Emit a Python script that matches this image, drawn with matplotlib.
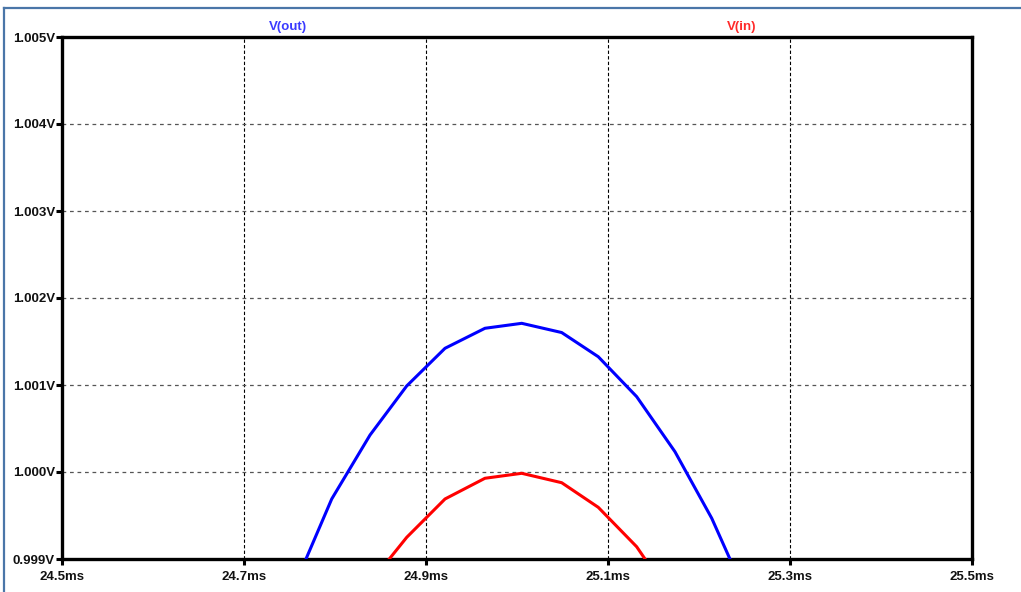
import numpy as np
import matplotlib.pyplot as plt
from matplotlib.lines import Line2D
from matplotlib.ticker import FuncFormatter

# 数据：时间点 (ms) 与两条曲线电压 (V)
t_ms = [24.7543, 24.7964, 24.8385, 24.8788, 24.9209, 24.9648, 25.0052,
        25.0491, 25.0893, 25.1315, 25.1736, 25.2140, 25.2561]
v_out = [0.998663, 0.999690, 1.000425, 1.000989, 1.001422, 1.001652, 1.001709,
         1.001603, 1.001325, 1.000866, 1.000233, 0.999468, 0.998483]

t_in = [24.8385, 24.8788, 24.9209, 24.9648, 25.0052, 25.0491, 25.0893,
        25.1315, 25.1736]
v_in = [0.998725, 0.999249, 0.999690, 0.999928, 0.999985, 0.999877, 0.999594,
        0.999141, 0.998496]

x_ticks = [24.5, 24.7, 24.9, 25.1, 25.3, 25.5]
y_ticks = [0.999, 1.000, 1.001, 1.002, 1.003, 1.004, 1.005]

W, H = 1021, 592
fig = plt.figure(figsize=(W / 100, H / 100), dpi=100)
fig.patch.set_facecolor('white')

# 外框（左、上）
frame_c = '#4a76a8'
fig.add_artist(Line2D([4 / W, 4 / W], [0, 1 - 8 / H], color=frame_c, lw=1.6,
                      transform=fig.transFigure))
fig.add_artist(Line2D([4 / W, 1], [1 - 8 / H, 1 - 8 / H], color=frame_c, lw=1.6,
                      transform=fig.transFigure))

ax = fig.add_axes([62 / W, (H - 559) / H, (972 - 62) / W, (559 - 37) / H])
ax.set_xlim(24.5, 25.5)
ax.set_ylim(0.999, 1.005)

ax.plot(t_ms, v_out, color='#0000ff', lw=2.2, zorder=3)
ax.plot(t_in, v_in, color='#ff0000', lw=2.2, zorder=3)

# 网格
for x in x_ticks[1:-1]:
    ax.axvline(x, color='black', lw=0.8, ls=(0, (3, 2)), zorder=1)
for y in y_ticks[1:-1]:
    ax.axhline(y, color='#555555', lw=0.9, ls=(0, (3, 3)), zorder=1)

ax.set_xticks(x_ticks)
ax.set_yticks(y_ticks)
ax.xaxis.set_major_formatter(FuncFormatter(lambda v, p: f"{v:.1f}ms"))
ax.yaxis.set_major_formatter(FuncFormatter(lambda v, p: f"{v:.3f}V"))
ax.tick_params(axis='both', direction='out', length=4, width=2.2, color='black',
               labelsize=9.5, pad=1)
ax.tick_params(axis='x', pad=4.5)
for lab in ax.get_xticklabels() + ax.get_yticklabels():
    lab.set_fontfamily('Liberation Sans')
    lab.set_fontweight('bold')
    lab.set_color('#111111')

for s in ax.spines.values():
    s.set_linewidth(2.4)
    s.set_color('black')

fig.text(288 / W, 1 - 27 / H, 'V(out)', color='#3a3aff', fontsize=9.5,
         fontweight='bold', family='Liberation Sans', ha='center', va='center')
fig.text(742 / W, 1 - 27 / H, 'V(in)', color='#ff2a2a', fontsize=9.5,
         fontweight='bold', family='Liberation Sans', ha='center', va='center')

fig.savefig('out.png', dpi=100)
